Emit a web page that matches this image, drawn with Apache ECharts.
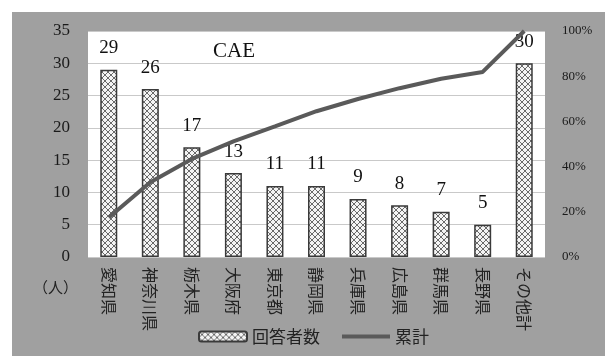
<!DOCTYPE html>
<html>
<head>
<meta charset="utf-8">
<script src="https://cdn.jsdelivr.net/npm/echarts@6/dist/echarts.min.js"></script>
<style>
  html, body { margin: 0; padding: 0; background: #ffffff; }
  #chart { width: 605px; height: 356px; }
</style>
</head>
<body>
<div id="chart"></div>
<script>
// Respondents by prefecture (CAE)
const categories = ['愛知県', '神奈川県', '栃木県', '大阪府', '東京都', '静岡県', '兵庫県', '広島県', '群馬県', '長野県', 'その他計'];
const respondents = [29, 26, 17, 13, 11, 11, 9, 8, 7, 5, 30];
const cumulativePct = [17.5, 33.1, 43.4, 51.2, 57.8, 64.5, 69.9, 74.7, 78.9, 81.9, 100];
const leftTicks = { min: 0, max: 35, interval: 5 };
const rightTicks = { min: 0, max: 100, interval: 20 };

// cross-hatch fill for the bars
function hatch() {
  const c = document.createElement('canvas');
  c.width = 6; c.height = 6;
  const g = c.getContext('2d');
  g.fillStyle = '#f4f4f4';
  g.fillRect(0, 0, 6, 6);
  g.strokeStyle = '#6a6a6a';
  g.lineWidth = 1;
  g.beginPath();
  g.moveTo(0, 0); g.lineTo(6, 6);
  g.moveTo(6, 0); g.lineTo(0, 6);
  g.stroke();
  return c;
}
const pattern = { image: hatch(), repeat: 'repeat' };

const serif = 'Liberation Serif';
const jp = 'Noto Sans CJK JP';

const chart = echarts.init(document.getElementById('chart'), null, { renderer: 'canvas' });
chart.setOption({
  backgroundColor: '#ffffff',
  animation: false,
  textStyle: { fontFamily: serif },
  graphic: [
    { type: 'rect', z: -10, shape: { x: 12, y: 12, width: 600, height: 350 }, style: { fill: '#a0a0a0' } },
    { type: 'text', left: 33, top: 280, style: { text: '（人）', font: '15px "' + jp + '"', fill: '#222' } }
  ],
  title: {
    text: 'CAE', left: 208, top: 36,
    textStyle: { fontFamily: serif, fontSize: 21, fontWeight: 'normal', color: '#111' }
  },
  grid: { left: 88, right: 60, top: 31, bottom: 99, show: true, backgroundColor: '#ffffff', borderWidth: 0 },
  legend: {
    bottom: 6, left: 193, itemWidth: 48, itemHeight: 10, itemGap: 22,
    textStyle: { fontFamily: jp, fontSize: 17, color: '#222' },
    data: [
      { name: '回答者数' },
      { name: '累計', icon: 'path://M0,0H50V4H0Z' }
    ]
  },
  xAxis: {
    type: 'category', data: categories,
    axisLine: { show: false }, axisTick: { show: false },
    axisLabel: { rotate: -90, margin: 10, fontFamily: jp, fontSize: 16, color: '#222' }
  },
  yAxis: [
    {
      type: 'value', min: leftTicks.min, max: leftTicks.max, interval: leftTicks.interval,
      axisLine: { show: false }, axisTick: { show: false },
      axisLabel: {
        margin: 18, formatter: '{n|{value}}',
        rich: { n: { fontFamily: serif, fontSize: 17, color: '#1a1a1a' } }
      },
      splitLine: { lineStyle: { color: '#c9c9c9', width: 1 } }
    },
    {
      type: 'value', min: rightTicks.min, max: rightTicks.max, interval: rightTicks.interval,
      axisLine: { show: false }, axisTick: { show: false },
      axisLabel: {
        margin: 17, formatter: '{n|{value}%}',
        rich: { n: { fontFamily: serif, fontSize: 13, color: '#1a1a1a' } }
      },
      splitLine: { show: false }
    }
  ],
  series: [
    {
      name: '回答者数', type: 'bar', data: respondents, barWidth: 17,
      itemStyle: { color: pattern, borderColor: '#3a3a3a', borderWidth: 1.5 },
      label: { show: true, position: 'top', distance: 12, fontFamily: serif, fontSize: 19, color: '#111' },
      z: 2
    },
    {
      name: '累計', type: 'line', yAxisIndex: 1, data: cumulativePct,
      symbol: 'none', lineStyle: { color: '#5a5a5a', width: 4 }, itemStyle: { color: '#5a5a5a' },
      z: 3
    }
  ]
});
</script>
</body>
</html>
